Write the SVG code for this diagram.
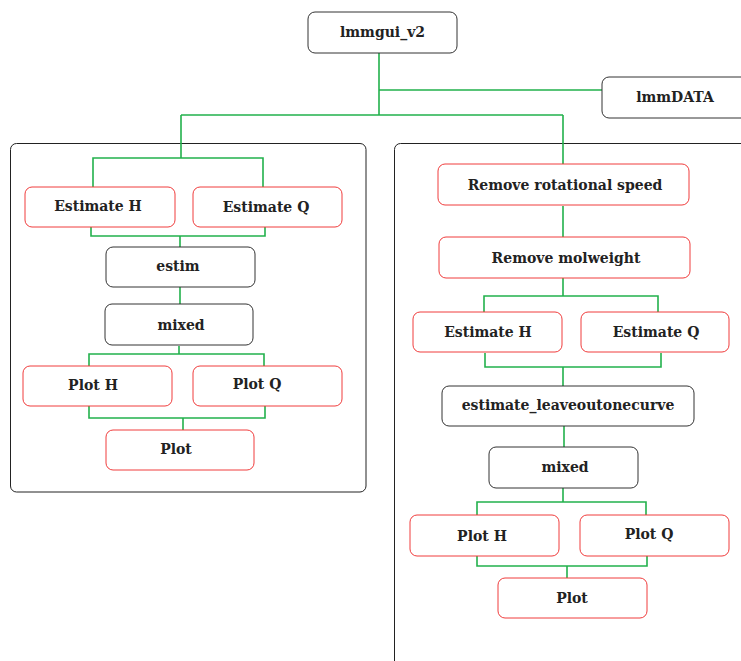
<svg xmlns="http://www.w3.org/2000/svg" width="741" height="661" viewBox="0 0 741 661">
<style>
.bg{fill:#ffffff}
.cont{fill:none;stroke:#222;stroke-width:1}
.blk{fill:#fff;stroke:#333;stroke-width:1}
.red{fill:#fff;stroke:#f03c3c;stroke-width:1}
.lbl{font-family:"DejaVu Serif","Liberation Serif",serif;font-weight:bold;font-size:14px;fill:#222;text-anchor:middle}
.con{fill:none;stroke:#22b14c;stroke-width:1.6}
</style>
<rect class="bg" x="0" y="0" width="741" height="661"/>
<g id="containers">
<rect class="cont" x="10.5" y="143.5" width="355.5" height="348.5" rx="6"/>
<path class="cont" d="M394.5 670 V149.5 a6 6 0 0 1 6 -6 H760"/>
</g>
<g id="connectors">
<path class="con" d="M379 53 V115 M379 90 H602 M181 115 H563 M181 115 V158 M93 187 V158 H263 V187 M91 227 V236 H265 V227 M180 236 V247 M180 287 V304 M179 346 V354 M89 366 V354 H264 V366 M89 406 V418 H265 V406 M183 418 V430"/>
<path class="con" d="M563 115 V164 M563 206 V237 M563 278 V296 M484 312 V296 H658 V312 M485 353 V367 H661 V353 M563 367 V386 M564 426 V447 M563 488 V502 M477 515 V502 H646 V515 M477 556 V566 H647 V556 M567 566 V578"/>
</g>
<g id="lmmgui_v2"><rect class="blk" x="308" y="12" width="149" height="41" rx="7"/><text class="lbl" x="382.5" y="37">lmmgui_v2</text></g>
<g id="lmmDATA"><rect class="blk" x="602" y="77" width="149" height="41" rx="7"/><text class="lbl" x="675" y="102">lmmDATA</text></g>
<g id="L_estH"><rect class="red" x="25" y="187" width="150" height="40" rx="7"/><text class="lbl" x="98" y="211">Estimate H</text></g>
<g id="L_estQ"><rect class="red" x="193" y="187" width="149" height="40" rx="7"/><text class="lbl" x="266" y="212">Estimate Q</text></g>
<g id="L_estim"><rect class="blk" x="106" y="247" width="149" height="40" rx="7"/><text class="lbl" x="178" y="271">estim</text></g>
<g id="L_mixed"><rect class="blk" x="105" y="304" width="148" height="41" rx="7"/><text class="lbl" x="181" y="330">mixed</text></g>
<g id="L_plotH"><rect class="red" x="23" y="366" width="149" height="40" rx="7"/><text class="lbl" x="93" y="390">Plot H</text></g>
<g id="L_plotQ"><rect class="red" x="193" y="366" width="149" height="40" rx="7"/><text class="lbl" x="257" y="389">Plot Q</text></g>
<g id="L_plot"><rect class="red" x="106" y="430" width="148" height="40" rx="7"/><text class="lbl" x="176" y="454">Plot</text></g>
<g id="R_rot"><rect class="red" x="438" y="164" width="251" height="41" rx="7"/><text class="lbl" x="565" y="190">Remove rotational speed</text></g>
<g id="R_mol"><rect class="red" x="439" y="237" width="251" height="41" rx="7"/><text class="lbl" x="566" y="263">Remove molweight</text></g>
<g id="R_estH"><rect class="red" x="413" y="312" width="149" height="40" rx="7"/><text class="lbl" x="488" y="337">Estimate H</text></g>
<g id="R_estQ"><rect class="red" x="581" y="312" width="148" height="40" rx="7"/><text class="lbl" x="656" y="337">Estimate Q</text></g>
<g id="R_leave"><rect class="blk" x="442" y="386" width="252" height="40" rx="7"/><text class="lbl" x="568" y="410">estimate_leaveoutonecurve</text></g>
<g id="R_mixed"><rect class="blk" x="489" y="447" width="149" height="41" rx="7"/><text class="lbl" x="565" y="472">mixed</text></g>
<g id="R_plotH"><rect class="red" x="410" y="515" width="149" height="41" rx="7"/><text class="lbl" x="482" y="541">Plot H</text></g>
<g id="R_plotQ"><rect class="red" x="580" y="515" width="149" height="41" rx="7"/><text class="lbl" x="649" y="539">Plot Q</text></g>
<g id="R_plot"><rect class="red" x="498" y="578" width="149" height="40" rx="7"/><text class="lbl" x="572" y="603">Plot</text></g>
</svg>
